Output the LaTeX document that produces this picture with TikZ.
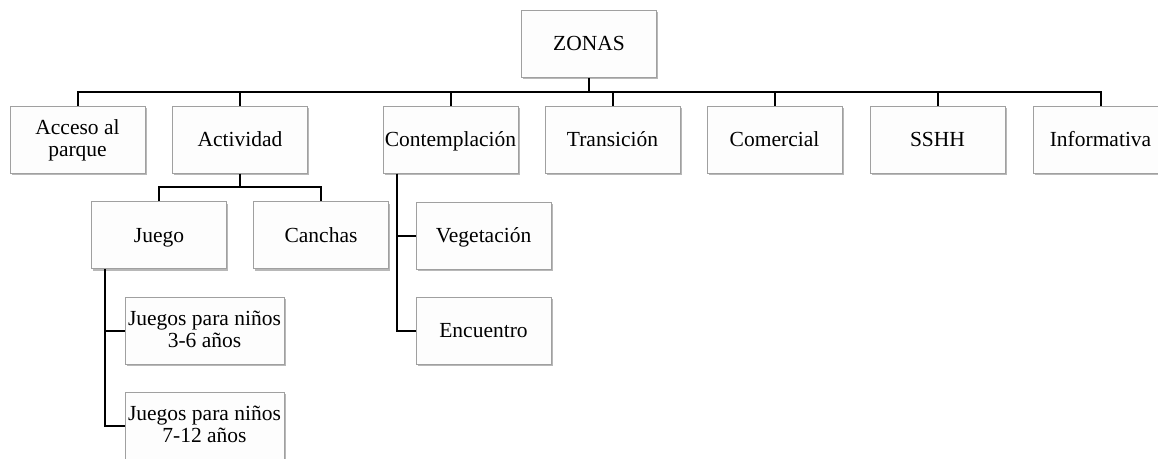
\documentclass[tikz,border=0pt]{standalone}
\usepackage{fontspec}
\setmainfont{Liberation Serif}
\usetikzlibrary{shadows}
\definecolor{boxline}{HTML}{A0A0A0}
\definecolor{boxfill}{HTML}{FDFDFD}
\begin{document}
\begin{tikzpicture}[x=1pt,y=-1pt,
  basebox/.style={draw=boxline, line width=1pt, fill=boxfill, minimum width=135pt, minimum height=67pt,
    inner sep=0pt, align=center, font=\fontsize{21.5}{22}\selectfont,
    drop shadow={shadow xshift=1.5pt, shadow yshift=-2.2pt, fill=black, opacity=0.28}},
  zbox/.style={basebox, text height=16pt, text depth=2pt},
  mbox/.style={basebox, execute at begin node={\rule{0pt}{16pt}}, execute at end node={\rule[-2pt]{0pt}{2pt}}},
  wbox/.style={mbox, minimum width=159pt},
  conn/.style={line width=2pt, black}]
\useasboundingbox (0,0) rectangle (1158,458);
\clip (0,0) rectangle (1158,458);
\fill[white] (0,0) rectangle (1158,458);

\node[zbox] (zonas) at (589,43.5) {ZONAS};
\node[mbox] (acceso) at (77.5,139.5) {Acceso al\\\smash{parque}};
\node[zbox] (actividad) at (240,139.5) {Actividad};
\node[zbox] (contemp) at (450.5,139.5) {Contemplación};
\node[zbox] (trans) at (612.5,139.5) {Transición};
\node[zbox] (comercial) at (774.5,139.5) {Comercial};
\node[zbox] (sshh) at (937.5,139.5) {SSHH};
\node[zbox] (info) at (1100.5,139.5) {Informativa};

\node[zbox] (juego) at (159,235) {Juego};
\node[zbox] (canchas) at (321,235) {Canchas};
\node[wbox] (j1) at (204.5,330.5) {Juegos para niños\\3-6 años};
\node[wbox] (j2) at (204.5,425.5) {Juegos para niños\\7-12 años};

\node[zbox] (veg) at (483.5,235.5) {Vegetación};
\node[zbox] (enc) at (483.5,330.5) {Encuentro};

% connectors
\coordinate (bus) at (589,92);
\draw[conn] (zonas.south) -- (bus);
\foreach \c in {acceso,actividad,contemp,trans,comercial,sshh,info}
  \draw[conn] (bus) -| (\c.north);

\coordinate (abus) at (240,187);
\draw[conn] (actividad.south) -- (abus);
\foreach \c in {juego,canchas}
  \draw[conn] (abus) -| (\c.north);

\draw[conn] ([xshift=14pt]juego.south west) |- (j1.west);
\draw[conn] ([xshift=14pt]juego.south west) |- (j2.west);

\draw[conn] ([xshift=14pt]contemp.south west) |- (veg.west);
\draw[conn] ([xshift=14pt]contemp.south west) |- (enc.west);
\end{tikzpicture}
\end{document}
